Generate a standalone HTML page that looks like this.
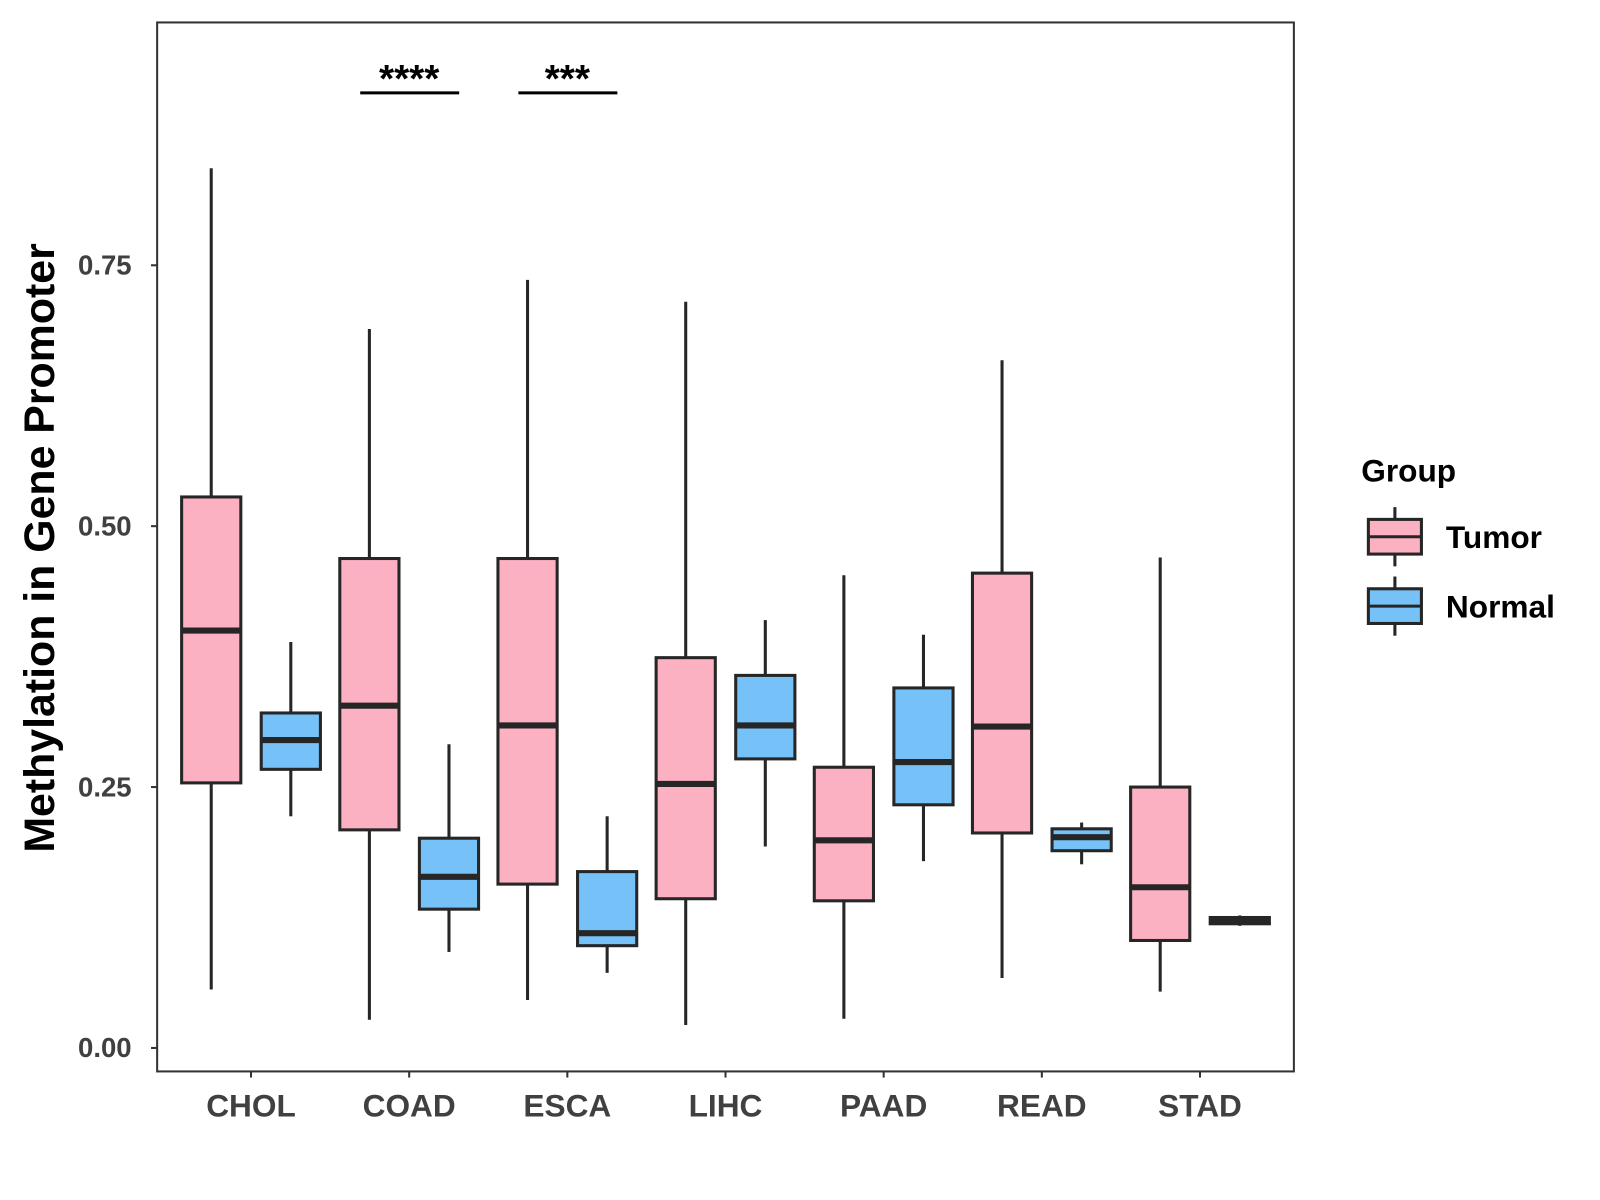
<!DOCTYPE html>
<html><head><meta charset="utf-8"><style>html,body{margin:0;padding:0;background:#fff}svg{display:block}</style></head>
<body>
<svg id="chart" width="1600" height="1200" viewBox="0 0 1568 1176" xmlns="http://www.w3.org/2000/svg" font-family="Liberation Sans, Arial, sans-serif" font-weight="bold"></svg>
<script>
const categories = ["CHOL","COAD","ESCA","LIHC","PAAD","READ","STAD"];
// [whiskerLow, Q1, median, Q3, whiskerHigh]
const tumorStats = [
  [0.056,0.254,0.400,0.528,0.843],
  [0.027,0.209,0.328,0.469,0.689],
  [0.046,0.157,0.309,0.469,0.736],
  [0.022,0.143,0.253,0.374,0.715],
  [0.028,0.141,0.199,0.269,0.453],
  [0.067,0.206,0.308,0.455,0.659],
  [0.054,0.103,0.154,0.250,0.470]
];
const normalStats = [
  [0.222,0.267,0.295,0.321,0.389],
  [0.092,0.133,0.164,0.201,0.291],
  [0.072,0.098,0.110,0.169,0.222],
  [0.193,0.277,0.309,0.357,0.410],
  [0.179,0.233,0.274,0.345,0.396],
  [0.176,0.189,0.202,0.210,0.216],
  [0.117,0.119,0.122,0.125,0.127]
];
const yTicks = [0, 0.25, 0.5, 0.75];
const yTickLabels = ["0.00","0.25","0.50","0.75"];
const sigCategories = ["COAD","ESCA"];
const sigLabels = ["****","***"];

const svg = document.getElementById('chart');
const NS = "http://www.w3.org/2000/svg";
function mk(tag, attrs, parent){const e=document.createElementNS(NS,tag);for(const k in attrs)e.setAttribute(k,attrs[k]);(parent||svg).appendChild(e);return e;}
const P = {l:154, r:1268, t:22, b:1050};
function y(v){return 1027 - v*1022.7;}
function x(i){return 246 + i*155;}
const BW = 58, OFF = 39;

yTicks.forEach((t,i)=>{
  const ln = mk('line',{x1:148,x2:154,y1:y(t),y2:y(t),stroke:'#333','stroke-width':2});
  
  
  const tx = mk('text',{x:129,y:y(t)+9,'text-anchor':'end','font-size':27,fill:'#404040'});
  tx.textContent = yTickLabels[i];
  
  
});
categories.forEach((c,i)=>{
  const ln = mk('line',{x1:x(i),x2:x(i),y1:1050,y2:1056,stroke:'#333','stroke-width':2});
  
  
  const tx = mk('text',{x:x(i),y:1094,'text-anchor':'middle','font-size':31,fill:'#404040'});
  tx.textContent = c;
  
  
});

function box(cx, s, fill, name){
  const g = mk('g',{});
  
  
  mk('line',{x1:cx,x2:cx,y1:y(s[4]),y2:y(s[3]),stroke:'#262626','stroke-width':3},g);
  mk('line',{x1:cx,x2:cx,y1:y(s[1]),y2:y(s[0]),stroke:'#262626','stroke-width':3},g);
  mk('rect',{x:cx-BW/2,y:y(s[3]),width:BW,height:Math.max(y(s[1])-y(s[3]),1),fill:fill,stroke:'#262626','stroke-width':3},g);
  mk('line',{x1:cx-BW/2,x2:cx+BW/2,y1:y(s[2]),y2:y(s[2]),stroke:'#262626','stroke-width':6},g);
}
categories.forEach((c,i)=>{
  box(x(i)-OFF, tumorStats[i], '#FCB1C3', 'box-tumor-'+c.toLowerCase());
  box(x(i)+OFF, normalStats[i], '#76C1F7', 'box-normal-'+c.toLowerCase());
});

sigCategories.forEach((c,k)=>{
  const i = categories.indexOf(c);
  const ln = mk('line',{x1:x(i)-48,x2:x(i)+49,y1:91,y2:91,stroke:'#000','stroke-width':3});
  
  
  const tx = mk('text',{x:x(i),y:90,'text-anchor':'middle','font-size':38,fill:'#000'});
  tx.textContent = sigLabels[k];
  
  
});

const frame = mk('rect',{x:P.l,y:P.t,width:P.r-P.l,height:P.b-P.t,fill:'none',stroke:'#333','stroke-width':2});



const yt = mk('text',{x:0,y:0,transform:'translate(53,537) rotate(-90)','text-anchor':'middle','font-size':42,fill:'#000'});
yt.textContent = 'Methylation in Gene Promoter';



const lt = mk('text',{x:1334,y:472,'font-size':31,fill:'#000'});
lt.textContent = 'Group';


[['Tumor','#FCB1C3',526],['Normal','#76C1F7',594]].forEach(([lab,col,cy])=>{
  const g = mk('g',{});
  
  
  mk('line',{x1:1367,x2:1367,y1:cy-29,y2:cy+29,stroke:'#262626','stroke-width':3},g);
  mk('rect',{x:1341,y:cy-17,width:52,height:34,fill:col,stroke:'#262626','stroke-width':3},g);
  mk('line',{x1:1341,x2:1393,y1:cy,y2:cy,stroke:'#262626','stroke-width':3},g);
  const t = mk('text',{x:1417,y:cy+11,'font-size':31,fill:'#000'},g);
  t.textContent = lab;
});
</script>
</body></html>
